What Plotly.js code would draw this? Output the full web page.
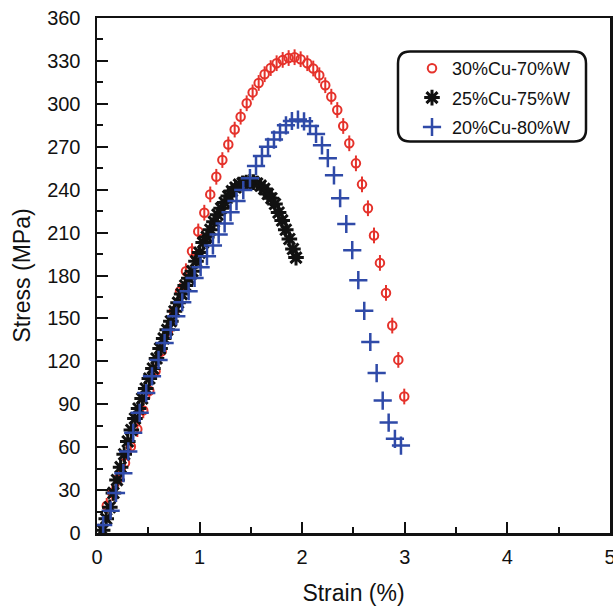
<!DOCTYPE html>
<html>
<head>
<meta charset="utf-8">
<script src="https://cdn.plot.ly/plotly-3.0.1.min.js"></script>
<style>html,body{margin:0;padding:0;background:#fff;}#chart{width:613px;height:606px;}</style>
</head>
<body>
<div id="chart"></div>
<script>
// Series names
const seriesNames = ["30%Cu-70%W", "25%Cu-75%W", "20%Cu-80%W"];

// 30%Cu-70%W (red, with error bars)
const strainA = [0.095,0.15,0.208,0.273,0.33,0.393,0.451,0.51,0.571,0.63,0.692,0.75,0.809,0.867,0.926,0.987,1.046,1.104,1.163,1.222,1.28,1.342,1.40,1.459,1.517,1.576,1.634,1.693,1.751,1.81,1.868,1.926,1.985,2.05,2.108,2.167,2.225,2.284,2.342,2.40,2.459,2.524,2.583,2.641,2.70,2.758,2.817,2.878,2.937,2.995];
const stressA = [19,28,38,49,60.5,72.6,85.7,99.4,113,127,141,155,169,183,197,210.8,223.9,236.7,249,260.7,271.6,282,291,300.4,308,314.6,320.7,325,328.4,330.7,332,332.6,331.2,328.4,324.7,320,313,305,295.7,284.5,272.4,258.4,243.7,227,208,188.8,167.8,145,121,95.4];
const errA = 5.5;

// 25%Cu-75%W (black asterisks)
const strainB = [0.055,0.09,0.125,0.16,0.195,0.23,0.265,0.30,0.335,0.37,0.405,0.44,0.475,0.51,0.545,0.58,0.615,0.65,0.685,0.72,0.755,0.79,0.825,0.86,0.895,0.93,0.965,1.00,1.035,1.07,1.105,1.14,1.175,1.21,1.245,1.28,1.315,1.35,1.385,1.42,1.455,1.49,1.525,1.56,1.595,1.63,1.665,1.70,1.735,1.77,1.805,1.84,1.875,1.91,1.94];
const stressB = [2,10,18,28,37,46,55,64,72,80,87,94,101,108,115,122,129,136,142,148,155,161,167,173,178,183,190,196,203,207,212,217.5,222.5,227,231,235.5,239,241.5,243.5,244.5,245,245.5,245.3,244.3,242.8,240.5,237,234,230,224,218.5,212,205.5,198.5,192.5];

// 20%Cu-80%W (blue crosses)
const strainC = [0.06,0.133,0.185,0.257,0.305,0.353,0.416,0.48,0.536,0.6,0.659,0.718,0.773,0.831,0.893,0.951,1.01,1.072,1.13,1.186,1.244,1.302,1.36,1.426,1.491,1.55,1.608,1.667,1.725,1.784,1.842,1.90,1.959,2.018,2.076,2.135,2.193,2.25,2.31,2.37,2.43,2.488,2.547,2.605,2.664,2.726,2.785,2.843,2.904,2.963];
const stressC = [5.6,15.6,28,41.8,57,70,84,97.8,109.5,121,132.8,142,151.5,161.3,169,178.3,185.8,193.5,201,208.7,216.4,224.3,232,239.7,248,256.5,263.5,270,275,280,285,288,289,287.8,284.5,279,271,262,250,234,216,197.7,176.7,155.3,133.5,111.8,92.6,77.2,65.8,61.1];

// Axis ticks
const xTicks = [0,1,2,3,4,5];
const yTicks = [0,30,60,90,120,150,180,210,240,270,300,330,360];

const RED = "#e5322b", BLACK = "#111111", BLUE = "#2f4aa8";
const FONT = "Liberation Sans, Arial, Helvetica, sans-serif";

const traces = [
  {
    x: strainA, y: stressA, name: seriesNames[0], type: "scatter", mode: "markers",
    legendgroup: "a",
    marker: {symbol: "circle-open", size: 8.5, color: RED, line: {color: RED, width: 2}},
    error_y: {type: "constant", value: errA, color: RED, thickness: 2, width: 0}
  },
  {
    x: strainB, y: stressB, name: seriesNames[1], type: "scatter", mode: "markers",
    legendgroup: "b",
    marker: {symbol: "asterisk-open", size: 13, color: BLACK, line: {color: BLACK, width: 3}}
  },
  {
    x: strainC, y: stressC, name: seriesNames[2], type: "scatter", mode: "markers",
    legendgroup: "c",
    marker: {symbol: "cross-thin-open", size: 13, color: BLUE, line: {color: BLUE, width: 2.5}}
  }
];

// rounded legend box (paper coords)
const L = 97, R = 610, T = 18, B = 533;
const pw = R - L, ph = B - T;
const bx0 = (398 - L) / pw, bx1 = (586 - L) / pw;
const by1 = (B - 51.5) / ph, by0 = (B - 141.5) / ph;
const rx = 12 / pw, ry = 12 / ph;
const boxPath = `M ${bx0+rx},${by1} L ${bx1-rx},${by1} Q ${bx1},${by1} ${bx1},${by1-ry} L ${bx1},${by0+ry} Q ${bx1},${by0} ${bx1-rx},${by0} L ${bx0+rx},${by0} Q ${bx0},${by0} ${bx0},${by0+ry} L ${bx0},${by1-ry} Q ${bx0},${by1} ${bx0+rx},${by1} Z`;

const axisCommon = {
  showgrid: false, zeroline: false,
  showline: true, linecolor: "#111", linewidth: 2.5, mirror: true,
  ticks: "inside", ticklen: 11, tickwidth: 2, tickcolor: "#111",
  tickfont: {family: FONT, size: 20, color: "#111"},
  ticklabeloverflow: "allow",
  minor: {ticks: "inside", ticklen: 6, tickwidth: 2, tickcolor: "#111"}
};

const layout = {
  width: 613, height: 606,
  margin: {l: L, r: 613 - R, t: T, b: 606 - B},
  paper_bgcolor: "#fff", plot_bgcolor: "#fff",
  font: {family: FONT, color: "#111"},
  showlegend: true,
  xaxis: Object.assign({}, axisCommon, {
    range: [0, 5.0005], tickvals: xTicks, ticktext: xTicks.map(String),
    ticklabelstandoff: 4,
    minor: Object.assign({}, axisCommon.minor, {dtick: 0.5, tick0: 0}),
    title: {text: "Strain (%)", font: {family: FONT, size: 23, color: "#111"}, standoff: 20}
  }),
  yaxis: Object.assign({}, axisCommon, {
    range: [0, 360], tickvals: yTicks, ticktext: yTicks.map(String),
    ticklabelstandoff: 10,
    minor: Object.assign({}, axisCommon.minor, {dtick: 15, tick0: 0}),
    title: {text: "Stress (MPa)", font: {family: FONT, size: 23, color: "#111"}, standoff: 10}
  }),
  legend: {
    x: (412 - L) / pw, y: (B - 50) / ph, xanchor: "left", yanchor: "top",
    bgcolor: "rgba(0,0,0,0)", borderwidth: 0,
    font: {family: FONT, size: 18, color: "#111"},
    traceorder: "grouped", tracegroupgap: 3, itemwidth: 30
  },
  shapes: [{type: "path", xref: "paper", yref: "paper", path: boxPath, line: {color: "#111", width: 2.5}, fillcolor: "rgba(0,0,0,0)"}]
};

Plotly.newPlot("chart", traces, layout, {displayModeBar: false, staticPlot: true});
</script>
</body>
</html>
